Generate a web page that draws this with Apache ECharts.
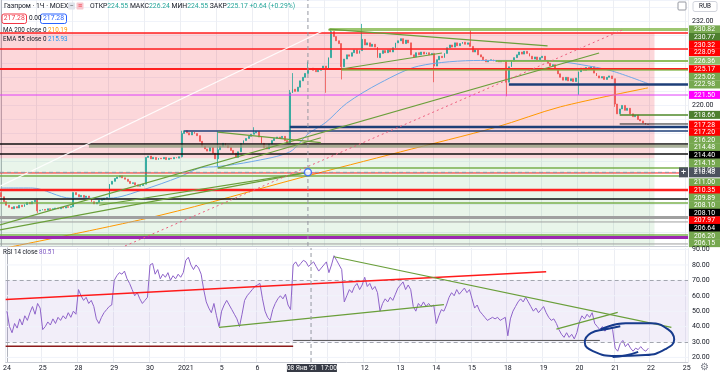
<!DOCTYPE html>
<html><head><meta charset="utf-8">
<script src="https://cdn.jsdelivr.net/npm/echarts@6/dist/echarts.min.js"></script>
<style>html,body{margin:0;padding:0;background:#fff}#c{width:720px;height:372px}</style>
</head><body><div id="c"></div><script>
// ---------- DATA ----------
const dayLabels = ['24','25','28','29','30','2021','5','6','8','11','12','13','14','15','18','19','20','21','22','25'];
const firstOpen = 207.6;
const closes = [
207.0,206.3,205.8,205.5,205.3,205.6,205.4,205.8,205.6,205.9,206.2,206.0,206.3,206.5,
205.0,205.1,205.2,205.1,205.3,205.2,205.3,205.4,205.3,205.5,205.4,205.6,205.5,205.6,
207.6,207.3,207.0,207.2,206.9,207.1,206.8,206.3,206.0,206.2,206.5,206.6,206.8,206.9,
208.8,209.2,209.6,209.8,210.0,209.7,209.5,209.2,208.9,209.0,208.7,208.5,208.6,208.8,
212.6,212.8,212.4,212.6,212.3,212.5,212.4,212.6,212.3,212.5,212.4,212.6,212.5,212.7,
216.0,216.4,216.1,215.8,216.2,216.0,215.7,214.9,214.2,213.8,213.5,214.0,213.2,212.4,
213.7,214.2,214.6,214.3,214.0,213.6,213.2,212.6,213.4,214.6,215.0,215.3,215.6,215.9,
216.1,216.3,215.5,214.6,214.0,213.8,214.5,215.0,215.3,215.5,215.4,215.6,215.0,214.7,
221.8,222.3,222.0,222.6,223.5,224.0,224.55,225.17,225.3,225.0,224.8,225.0,225.2,225.6,
225.3,226.8,230.5,229.8,229.2,228.8,225.5,226.6,227.2,227.0,227.5,227.9,227.4,227.8,
229.4,228.6,228.9,228.4,228.7,228.3,226.8,227.4,227.8,227.5,227.9,227.6,228.2,228.9,
229.2,229.5,228.8,229.3,228.9,227.2,226.9,227.5,227.2,227.6,227.3,227.5,227.2,227.4,
225.6,226.5,227.0,226.8,227.4,228.2,228.6,228.3,228.9,228.5,228.8,229.0,228.7,228.9,
228.4,227.6,227.9,227.2,226.9,226.5,226.2,226.4,226.5,226.3,226.4,226.2,226.3,226.4,
223.3,225.5,226.3,226.8,227.2,227.6,227.3,227.7,227.4,227.0,226.6,226.9,226.5,226.8,
227.0,226.4,226.0,225.6,225.8,225.2,224.5,224.0,223.6,224.0,223.5,223.8,223.4,223.9,
224.8,225.3,225.0,225.4,225.2,225.5,224.6,224.2,223.9,224.1,223.7,224.0,224.2,223.8,
220.2,218.8,219.5,220.0,219.3,219.6,218.8,218.4,218.6,218.0,217.8,217.5,217.3,217.28
];
// explicit [low, high] where a wick stands out
const wicks = {14:[204.7,206.6],70:[212.6,216.4],84:[211.2,216.3],98:[null,216.9],112:[null,222.2],113:[null,224.6],
119:[224.55,226.24],126:[221.8,null],128:[null,230.82],132:[223.7,null],140:[null,231.6],168:[223.3,null],
182:[null,230.7],196:[221.3,null],224:[221.5,null],238:[219.8,null]};
const ma200 = [[0,199.6],[62,204.4],[116,209.7],[155,213.4],[192,216.9],[217,219.8],[251,222.5]];
const ema55 = [[0,208.25],[12,208.25],[27,206.8],[42,206.8],[55,208.0],[69,209.8],[77,211.1],[84,211.3],[97,212.0],
[112,213.4],[119,215.93],[126,217.6],[134,220.3],[147,223.2],[162,225.6],[186,226.4],[212,226.4],[225,225.8],[237,224.9],[251,223.1]];
const rsi = [
50,40,36,42,39,45,41,47,44,49,53,48,55,52,
38,40,43,41,45,42,46,44,47,45,49,46,50,48,
64,60,57,59,55,57,53,45,42,46,49,51,53,54,
70,73,75,74,76,71,68,64,60,62,58,55,57,59,
80,81,74,77,71,74,72,75,70,73,71,74,72,75,
83,85,80,77,80,78,74,64,56,52,49,55,47,40,
50,54,57,54,51,48,45,40,48,57,60,62,64,66,
67,68,58,50,46,44,51,55,58,60,58,61,54,51,
80,82,79,81,83,82,79,80.51,82,79,76,78,80,82,
75,80,86,83,80,77,56,60,64,62,66,68,64,67,
72,66,68,64,66,62,50,55,58,56,59,57,61,65,
67,69,64,67,64,53,50,55,53,56,53,55,53,54,
42,47,51,50,54,59,62,60,64,61,63,65,62,64,
58,52,54,50,48,46,44,45,46,45,46,44,45,46,
34,45,50,53,56,58,56,59,56,53,50,52,49,51,
53,49,46,44,45,42,38,35,33,36,33,35,32,36,
43,47,45,48,46,49,42,40,38,40,37,39,41,38,
26,24,29,31,27,29,26,24,26,25,27,25,24,26
];
// horizontal levels (price) and the bar index where each starts
const levelPrices = [230.82,230.30,228.03,226.32,225.18,225.04,222.98,221.48,218.64,217.36,216.93,216.36,214.51,214.20,213.09,211.10,210.39,209.96,207.97,206.69,206.12,204.06,203.42,201.57,201.21,200.29];
const levelStarts = [127,-0.5,-0.5,192,-0.5,132,197,-0.5,240,240,112,71,-0.5,34,-0.5,84,-0.5,-0.5,-0.5,-0.5,-0.5,-0.5,-0.5,-0.5,-0.5,-0.5];
const zoneBounds = [230.30, 212.50, 200.0];
const zoneEnd = 253.5;
// trend lines [barIndex, price]
const triTop = [[127,230.87],[212,228.46]];
const triBottom = [[132,225.18],[171,227.46]];
const longTrend = [[-0.5,203.0],[232,227.46]];
const jan5Low = [[84,211.1],[124,215.4]];
const jan5High = [[84,216.2],[124,214.7]];
const lowerFan1 = [[-0.5,202.3],[119,210.48]];
const lowerFan2 = [[38,205.8],[119,210.48]];
const redDash = [[48,200.0],[241,230.73]];
const whiteFan = [[-0.5,208.5],[131,231.7]];
// RSI drawings [barIndex, rsi]
const rsiRed = [[-0.5,57.6],[211,75.6]];
const rsiDarkRed = [[-0.5,27.3],[112,27.3]];
const rsiGreenLong = [[128,85.3],[260,39.5]];
const rsiGreenAsc = [[83,39.5],[171,54.3]];
const rsiGreenShort = [[215,38.3],[239,49.2]];
const rsiGrayRay = [[112,31],[232,31]];
const circleLoop = [[232.3,38.2],[242.1,42.1],[251.7,42.1],[258.7,38.2],[261.1,31.7],[257.6,25.3],[249.8,21.5],[238.2,20.9],[229.3,24.1],[226.1,29.9],[228.5,35.7],[234.3,38.2],[240,40.2]];
const circleTail = [[237,20.3],[242,21.2],[247,23.6]];
const rsiTicks = [90,80,70,60,50,40,30,20];
const crossIndex = 119, crossPrice = 210.48;
const tagValues = ['230.82','230.77','230.32','228.09','226.36','225.17','225.02','222.98','221.50','218.66','217.28','217.20','216.20','214.48','214.40','214.15','213.09','211.00','210.35','209.89','208.10','208.10','207.97','206.64','206.20','206.15'];
const tagKinds = ['g','gd','r','r','gl','r','g','g','m','gd','r','r','g','g','k','g','g','g','r','g','g','k','r','k','g','g'];

// ---------- STYLES ----------
const levelStyles = [
['rgba(124,179,66,0.75)',3],['#ff1f1f',1.5],['#ff1f1f',1.5],['rgba(124,179,66,0.85)',2],['#ff1f1f',2],['rgba(124,179,66,0.85)',1.5],
['#1e3f78',2.5],['#e040fb',1],['#4f8a2a',1.5],['#222',1],['#1e3f78',2.5],['#1e3f78',1.5],['#111',1.5],['rgba(150,160,130,0.8)',3],
['#111',1.5],['rgba(110,170,60,0.9)',1.5],['#ff1f1f',1],['rgba(110,170,60,0.9)',1.5],['#ff1f1f',2.5],['#111',1.5],['rgba(110,170,60,0.9)',1.5],
['#a0a0a0',3],['#a0a0a0',1],['rgba(110,170,60,0.9)',1.5],['#9c27b0',3],['#a0a0a0',1]];
const kindColor = {g:'#76a84f',gd:'#4d7f2e',gl:'#8fbd6b',r:'#ff0000',m:'#ff00ff',k:'#000000'};
const FONT = 'Roboto, "Noto Sans", sans-serif';
const GREEN = '#6a9f3a';

const N = 267;
const cats = Array.from({length:N}, (_, i) => i % 14 === 0 ? dayLabels[i / 14] : '');
const ohlc = closes.map((c, i) => {
  const o = i === 0 ? firstOpen : closes[i - 1];
  let lo = Math.min(o, c), hi = Math.max(o, c);
  const w = wicks[i];
  if (w) { if (w[0] != null) lo = w[0]; if (w[1] != null) hi = w[1]; }
  return [o, c, lo, hi];
});

function seg(data, color, width, xi, yi, extra) {
  return Object.assign({type:'line', xAxisIndex:xi, yAxisIndex:yi, data:data, symbol:'none', silent:true,
    lineStyle:{color:color, width:width}, z:5, animation:false}, extra || {});
}

const series = [];
series.push({type:'candlestick', xAxisIndex:0, yAxisIndex:0, data:ohlc, barWidth:1.4, z:3, silent:true,
  itemStyle:{color:'#26a69a', color0:'#ef5350', borderColor:'#26a69a', borderColor0:'#ef5350', borderWidth:0.8}});
series.push(seg(ma200, '#ff9800', 1, 2, 0, {smooth:0.3, z:4}));
series.push(seg(ema55, '#6fa8e8', 1, 2, 0, {smooth:0.3, z:4}));
levelPrices.forEach((p, i) => {
  const s = seg([[levelStarts[i], p], [266.5, p]], levelStyles[i][0], levelStyles[i][1], 2, 0, {z:6});
  if (i === 0) {
    s.markArea = {silent:true, data:[
      [{coord:[-0.5, zoneBounds[0]], itemStyle:{color:'rgba(242,54,69,0.2)'}}, {coord:[zoneEnd, zoneBounds[1]]}],
      [{coord:[-0.5, zoneBounds[1]], itemStyle:{color:'rgba(76,175,80,0.12)'}}, {coord:[zoneEnd, zoneBounds[2]]}]
    ]};
  }
  series.push(s);
});
[triTop, triBottom, longTrend, jan5Low, jan5High, lowerFan1, lowerFan2].forEach(t => series.push(seg(t, GREEN, 1.2, 2, 0, {z:7})));
series.push(seg(redDash, '#ec5f7f', 1, 2, 0, {z:7, lineStyle:{color:'#ec5f7f', width:1, type:[2,3]}}));
series.push(seg(whiteFan, 'rgba(255,255,255,0.9)', 1.2, 2, 0, {z:7}));
// crosshair
series.push(seg([[crossIndex, 200], [crossIndex, 235]], '#9598a1', 1, 2, 0, {z:8, lineStyle:{color:'#9598a1', width:1, type:[4,3]}}));
series.push(seg([[-0.5, crossPrice], [266.5, crossPrice]], '#9598a1', 1, 2, 0, {z:8, lineStyle:{color:'#9598a1', width:1, type:[4,3]}}));
series.push(seg([[crossIndex, 17], [crossIndex, 91]], '#9598a1', 1, 3, 1, {z:8, lineStyle:{color:'#9598a1', width:1, type:[4,3]}}));
series.push({type:'scatter', xAxisIndex:2, yAxisIndex:0, data:[[crossIndex, crossPrice]], symbolSize:7, z:10, silent:true,
  itemStyle:{color:'#fff', borderColor:'#2962ff', borderWidth:1.5}});
// RSI
rsiTicks.forEach(t => series.push(seg([[-0.5, t], [266.5, t]], '#f0f3fa', 1, 3, 1, {z:1})));
series.push({type:'line', xAxisIndex:1, yAxisIndex:1, data:rsi, symbol:'none', silent:true, z:4,
  lineStyle:{color:'#8e63c9', width:1},
  markArea:{silent:true, data:[[{yAxis:70, itemStyle:{color:'rgba(126,87,194,0.1)'}}, {yAxis:30}]]},
  markLine:{silent:true, symbol:'none', label:{show:false}, lineStyle:{color:'#a3a6af', type:[4,3], width:1},
    data:[{yAxis:70}, {yAxis:30}]}});
series.push(seg(rsiRed, '#ff1a1a', 1.5, 3, 1, {z:6}));
series.push(seg(rsiDarkRed, '#8b1a1a', 1.5, 3, 1, {z:6}));
[rsiGreenLong, rsiGreenAsc, rsiGreenShort].forEach(t => series.push(seg(t, GREEN, 1.2, 3, 1, {z:6})));
series.push(seg(rsiGrayRay, '#555', 1, 3, 1, {z:6}));
series.push(seg(circleLoop, '#163a8c', 2, 3, 1, {z:7, smooth:0.5}));
series.push(seg(circleTail, '#163a8c', 2, 3, 1, {z:7, smooth:0.5}));

const dayOnly = (i, v) => v !== '';
const chart = echarts.init(document.getElementById('c'));
chart.setOption({
  animation:false,
  grid:[{left:0, right:32, top:0, height:246}, {left:0, right:32, top:248, height:115}],
  xAxis:[
    {type:'category', gridIndex:0, data:cats, axisLabel:{show:false}, axisTick:{show:false},
      axisLine:{show:true, lineStyle:{color:'#c9ccd4'}}, splitLine:{show:true, interval:dayOnly, lineStyle:{color:'#eceef3'}}},
    {type:'category', gridIndex:1, data:cats, axisTick:{show:false},
      axisLabel:{interval:dayOnly, fontSize:7, color:'#131722', margin:3, fontFamily:FONT},
      axisLine:{show:true, lineStyle:{color:'#c9ccd4'}}, splitLine:{show:true, interval:dayOnly, lineStyle:{color:'#eceef3'}}},
    {type:'value', gridIndex:0, min:-0.5, max:266.5, show:false},
    {type:'value', gridIndex:1, min:-0.5, max:266.5, show:false}
  ],
  yAxis:[
    {type:'value', gridIndex:0, position:'right', min:200, max:235, interval:2, axisTick:{show:false},
      axisLine:{show:true, lineStyle:{color:'#b2b5be'}}, splitLine:{show:true, lineStyle:{color:'#f0f3fa'}},
      axisLabel:{formatter:v => (v === 232 || v === 220) ? v.toFixed(2) : '', fontSize:7, color:'#131722', margin:4, fontFamily:FONT}},
    {type:'value', gridIndex:1, position:'right', min:17, max:91, axisTick:{show:false},
      axisLine:{show:true, lineStyle:{color:'#b2b5be'}}, splitLine:{show:false}, axisLabel:{show:false}}
  ],
  series:series
});

// ---------- OVERLAY TEXT ----------
const g = [];
function txt(x, y, text, fill, size, align, rich) {
  const st = {text:text, fill:fill, fontSize:size || 7, fontFamily:FONT, align:align || 'left', verticalAlign:'middle'};
  if (rich) st.rich = rich;
  g.push({type:'text', x:x, y:y, z:100, silent:true, style:st});
}
function box(x, y, w, h, fill, stroke, r) {
  g.push({type:'rect', z:99, silent:true, shape:{x:x, y:y, width:w, height:h, r:r || 0},
    style:{fill:fill, stroke:stroke || null, lineWidth:1}});
}
// price tags stacked like the platform does
const crossY = chart.convertToPixel({yAxisIndex:0}, crossPrice);
let prevY = -1e9;
tagValues.forEach((t, i) => {
  const v = parseFloat(t);
  let y = chart.convertToPixel({yAxisIndex:0}, v);
  y = Math.max(y, prevY + 7.6);
  if (v <= 211.0) y = Math.max(y, crossY + 10);
  prevY = y;
  box(689, y - 4, 31, 8, kindColor[tagKinds[i]]);
  txt(704.5, y + 0.3, t, '#fff', 6.8, 'center');
});
box(689, crossY - 5, 31, 10, '#4c525e');
txt(704.5, crossY, crossPrice.toFixed(2), '#fff', 7, 'center');
box(679, crossY - 5, 9, 10, '#4c525e');
txt(683.5, crossY, '+', '#fff', 9, 'center');
// RSI scale
rsiTicks.forEach(t => txt(692, chart.convertToPixel({yAxisIndex:1}, t), t.toFixed(2), '#131722', 7));
// time crosshair tag
const crossX = chart.convertToPixel({xAxisIndex:2}, crossIndex);
box(crossX - 21, 364, 50, 9, '#363a45');
txt(crossX + 4, 368.5, "08 Янв '21  17:00", '#fff', 6.5, 'center');
// header legend
txt(4, 6, 'Газпром · 1Ч · MOEX', '#131722', 6.8);
box(68, 2.5, 7, 7, '#e0e3eb', null, 1); txt(71.5, 6, '−', '#555', 7, 'center');
box(76.5, 2.5, 7, 7, '#f7c6ce', null, 1); txt(80, 6, '≡', '#f23645', 7, 'center');
const vRich = {v:{fill:'#26a69a', fontSize:6.8, fontFamily:FONT}};
txt(90, 6, 'ОТКР{v|224.55} МАКС{v|226.24} МИН{v|224.55} ЗАКР{v|225.17} {v|+0.64 (+0.29%)}', '#131722', 6.8, 'left', vRich);
box(2, 14, 24.5, 9.5, '#fff', '#f23645', 2); txt(14.25, 18.8, '217.28', '#f23645', 6.8, 'center');
txt(29, 18.8, '0.00', '#131722', 6.5);
box(40.5, 14, 26, 9.5, '#fff', '#2962ff', 2); txt(53.5, 18.8, '217.28', '#2962ff', 6.8, 'center');
txt(3, 30, 'MA 200 close 0 {o|210.19}', '#131722', 6.3, 'left', {o:{fill:'#ff9800', fontSize:6.3, fontFamily:FONT}});
txt(3, 39.5, 'EMA 55 close 0 {b|215.93}', '#131722', 6.3, 'left', {b:{fill:'#2196f3', fontSize:6.3, fontFamily:FONT}});
txt(3, 252.5, 'RSI 14 close {p|80.51}', '#131722', 6.3, 'left', {p:{fill:'#7e57c2', fontSize:6.3, fontFamily:FONT}});
box(693, 1.5, 24, 10, '#fff', '#d1d4dc', 2); txt(705, 6.5, 'RUB', '#131722', 6.3, 'center');
box(678, 2, 8, 8, '#fff', '#9598a1', 1);
txt(704, 367.5, '⚙', '#787b86', 10, 'center');
chart.setOption({graphic:g});
</script></body></html>
